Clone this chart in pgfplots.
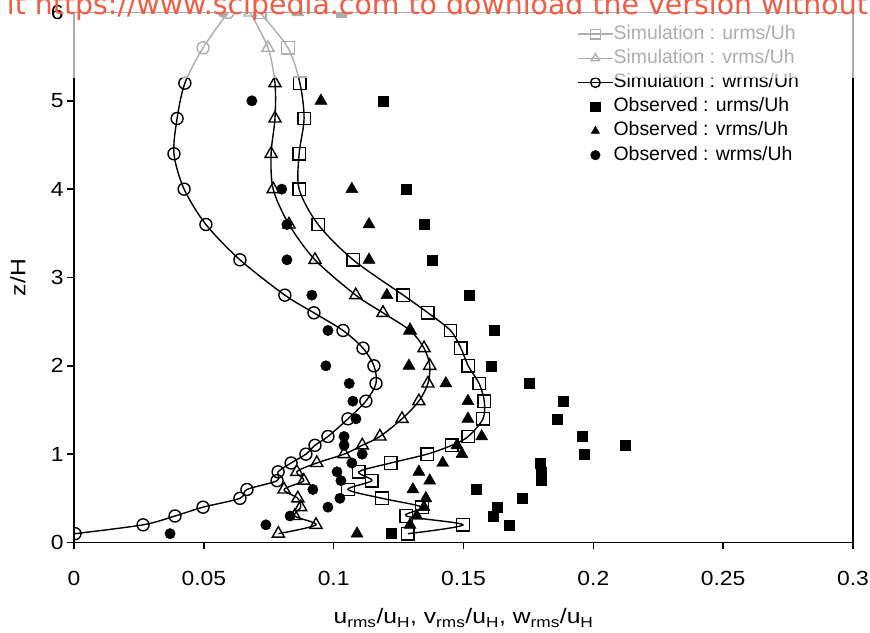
\documentclass[border=0pt]{standalone}
\usepackage{fontspec}
\setmainfont{Liberation Sans}
\newfontfamily\ticfont{Liberation Sans}[FakeStretch=1.12]
\newfontfamily\labfont{Liberation Sans}[FakeStretch=1.18]
\newfontfamily\wmfont{DejaVu Sans}
\usepackage{pgfplots}
\usepackage{pgfplotstable}
\pgfplotsset{compat=1.18}
\definecolor{wmred}{HTML}{F25C45}

% simulated profiles (smoothed lines with open marks)
\pgfplotstableread{
z   u      v      w
0.1 0.1286 0.0787 0.0004
0.2 0.1498 0.0932 0.0266
0.3 0.1280 0.0850 0.0389
0.4 0.1340 0.0873 0.0497
0.5 0.1186 0.0862 0.0639
0.6 0.1055 0.0809 0.0666
0.7 0.1147 0.0885 0.0782
0.8 0.1097 0.0858 0.0786
0.9 0.1220 0.0935 0.0836
1.0 0.1360 0.1040 0.0893
1.1 0.1455 0.1110 0.0928
1.2 0.1518 0.1178 0.0978
1.4 0.1575 0.1263 0.1055
1.6 0.1580 0.1328 0.1124
1.8 0.1560 0.1363 0.1163
2.0 0.1518 0.1370 0.1155
2.2 0.1490 0.1348 0.1113
2.4 0.1450 0.1294 0.1036
2.6 0.1363 0.1190 0.0924
2.8 0.1268 0.1085 0.0812
3.2 0.1075 0.0928 0.0639
3.6 0.0940 0.0828 0.0508
4.0 0.0867 0.0767 0.0424
4.4 0.0867 0.0759 0.0385
4.8 0.0886 0.0774 0.0397
5.2 0.0870 0.0774 0.0427
5.6 0.0824 0.0747 0.0497
6.0 0.0716 0.0678 0.0593
}\simdata

% observations
\pgfplotstableread{
z   u      v      w
0.1 0.1220 0.1090 0.0370
0.2 0.1675 0.1294 0.0739
0.3 0.1613 0.1320 0.0832
0.4 0.1630 0.1348 0.0978
0.5 0.1725 0.1355 0.1024
0.6 0.1548 0.1305 0.0920
0.7 0.1800 0.1370 0.1028
0.8 0.1800 0.1328 0.1013
0.9 0.1795 0.1420 0.1070
1.0 0.1965 0.1494 0.1110
1.1 0.2123 0.1475 0.1040
1.2 0.1957 0.1570 0.1040
1.4 0.1860 0.1517 0.1086
1.6 0.1884 0.1517 0.1074
1.8 0.1752 0.1432 0.1060
2.0 0.1605 0.1290 0.0970
2.4 0.1620 0.1294 0.0978
2.8 0.1520 0.1205 0.0916
3.2 0.1378 0.1136 0.0820
3.6 0.1350 0.1136 0.0820
4.0 0.1278 0.1070 0.0800
5.0 0.1190 0.0951 0.0685
6.0 0.1028 0.0862 0.0574
}\obsdata

\pgfplotsset{
  simleg/.style={legend image code/.code={
    \draw[mark repeat=2,mark phase=2,##1] plot coordinates {(0bp,0bp) (17.5bp,0bp) (35bp,0bp)};}},
  obsleg/.style={legend image code/.code={
    \draw[##1] plot[only marks] coordinates {(17.5bp,0bp)};}},
  sim/.style={black, line width=1.4bp, smooth, tension=0.5, mark options={solid, fill=white, line width=1.4bp}, simleg},
  obs/.style={black, only marks, mark options={fill=black}, obsleg},
}

\begin{document}
\begin{tikzpicture}
\begin{axis}[
  scale only axis, width=779bp, height=530bp,
  xmin=0, xmax=0.3, ymin=0, ymax=6,
  xtick={0,0.05,0.1,0.15,0.2,0.25,0.3},
  xticklabels={0,0.05,0.1,0.15,0.2,0.25,0.3},
  ytick={0,1,2,3,4,5,6},
  yticklabels={0,1,2,3,4,5,6},
  tick align=outside, xtick pos=left, ytick pos=left,
  major tick length=7bp,
  axis line style={line width=1.5bp},
  every tick/.style={black, line width=1.5bp},
  tick label style={font=\ticfont\fontsize{20.5}{24}\selectfont},
  xticklabel style={yshift=-18bp},
  xlabel={u\textsubscript{rms}/u\textsubscript{H}, v\textsubscript{rms}/u\textsubscript{H}, w\textsubscript{rms}/u\textsubscript{H}},
  ylabel={z/H},
  label style={font=\labfont\fontsize{21}{25}\selectfont},
  xlabel style={at={(axis description cs:0.5,-0.1425)}, anchor=center},
  ylabel style={at={(axis description cs:-0.072,0.5)}, anchor=center},
  clip marker paths=true,
  legend cell align=left,
  legend style={at={(0.6457,0.9764)}, anchor=north west, draw=none, fill=none,
    inner sep=0pt, row sep=6.2bp,
    font=\fontsize{19.5}{23}\selectfont,
    nodes={inner sep=0pt, text height=14bp, text depth=4bp},
    /tikz/every even column/.append style={column sep=5bp}},
  legend image post style={mark size=4.8bp},
]
\addplot[sim, mark=square, mark size=6.25bp] table[x=u, y=z] {\simdata};
\addlegendentry{Simulation : urms/Uh}
\addplot[sim, mark=triangle, mark size=7bp] table[x=v, y=z] {\simdata};
\addlegendentry{Simulation : vrms/Uh}
\addplot[sim, mark=o, mark size=6bp] table[x=w, y=z] {\simdata};
\addlegendentry{Simulation : wrms/Uh}
\addplot[obs, mark=square*, mark size=5bp] table[x=u, y=z] {\obsdata};
\addlegendentry{Observed : urms/Uh}
\addplot[obs, mark=triangle*, mark size=7bp] table[x=v, y=z] {\obsdata};
\addlegendentry{Observed : vrms/Uh}
\addplot[obs, mark=*, mark size=5.2bp] table[x=w, y=z] {\obsdata};
\addlegendentry{Observed : wrms/Uh}
\coordinate (O) at (rel axis cs:0,0);
\end{axis}
\begin{scope}[shift={(O)}, xshift=-74bp, yshift=-90.5bp, x=1bp, y=1bp]
% washed-out band across the top of the plot
\fill[white, opacity=0.68] (72,555) rectangle (855,633);
% watermark
\node[overlay, anchor=base east, text=wmred, font=\wmfont\fontsize{28.5}{30}\selectfont, inner sep=0pt]
  at (868,618) {it https://www.scipedia.com to download the version without};
\pgfresetboundingbox
\path[use as bounding box] (0,0) rectangle (870,633);
\end{scope}
\end{tikzpicture}
\end{document}
